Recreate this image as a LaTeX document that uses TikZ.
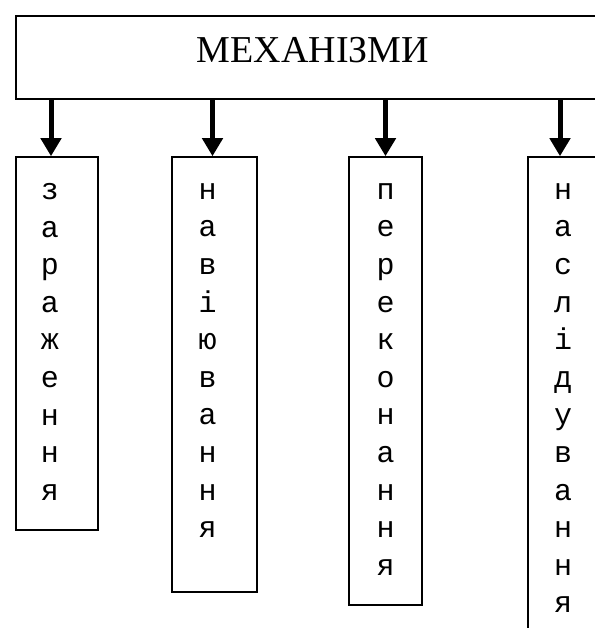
\documentclass[tikz,border=0pt]{standalone}
\usepackage{fontspec}
\newfontfamily\titlefont{Liberation Serif}
\newfontfamily\letterfont{Liberation Mono}
\usetikzlibrary{arrows.meta, positioning}

\begin{document}
\begin{tikzpicture}[
									x = 1pt,
									y = -1pt,
									frame/.style = {
										draw,
										rectangle,
										line width = 1.6pt,
										inner sep = 0
									},
									word/.style = {
										align = center,
										inner sep = 0,
										font = \letterfont\fontsize{30}{37.6}\selectfont
									},
									link/.style = {
										line width = 5pt,
										-{Triangle[width = 20pt, length = 18pt]}
									}
								]
							\useasboundingbox (0, 0) rectangle (594, 628);

							\node [frame, minimum width = 594pt, text height = 47pt, text depth = 36pt,
								font = \titlefont\fontsize{38}{40}\selectfont] (top) at (313, 57.5) {МЕХАНІЗМИ};

							\node [frame, minimum width = 82pt, minimum height = 373pt] (zar) at (57,    343.5) {};
							\node [frame, minimum width = 85pt, minimum height = 435pt] (nav) at (214.5, 374.5) {};
							\node [frame, minimum width = 73pt, minimum height = 448pt] (per) at (385.5, 381) {};
							\node [frame, minimum width = 70pt, minimum height = 493pt] (nas) at (563,   403.5) {};

							\node [word, below = 27pt of zar.north, xshift = -7pt] (zarw) {з\\а\\р\\а\\ж\\е\\н\\н\\я};
							\node [word, below = 27pt of nav.north, xshift = -7pt] (navw) {н\\а\\в\\і\\ю\\в\\а\\н\\н\\я};
							\node [word, below = 27pt of per.north] (perw) {п\\е\\р\\е\\к\\о\\н\\а\\н\\н\\я};
							\node [word, below = 27pt of nas.north] (nasw) {н\\а\\с\\л\\і\\д\\у\\в\\а\\н\\н\\я};

							\draw [link] ([xshift = -6pt]zar.north |- top.south) -- ([xshift = -6pt]zar.north);
							\draw [link] ([xshift = -2pt]nav.north |- top.south) -- ([xshift = -2pt]nav.north);
							\draw [link] (per.north |- top.south) -- (per.north);
							\draw [link] ([xshift = -3pt]nas.north |- top.south) -- ([xshift = -3pt]nas.north);
						\end{tikzpicture}
\end{document}
